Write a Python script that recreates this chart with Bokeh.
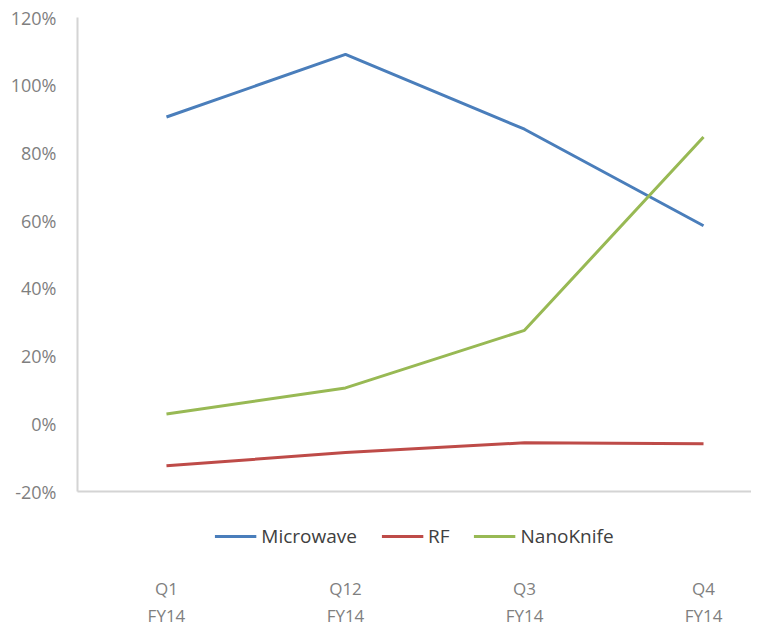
from bokeh.plotting import figure
from bokeh.layouts import column
from bokeh.models import (Range1d, LinearAxis, FixedTicker, PrintfTickFormatter,
                          Legend, LegendItem, ColumnDataSource)
from bokeh.embed import file_html
from bokeh.resources import INLINE

categories = ["Q1\nFY14", "Q12\nFY14", "Q3\nFY14", "Q4\nFY14"]
microwave = [90.6, 109.1, 87.0, 58.5]
rf = [-12.4, -8.5, -5.6, -5.9]
nanoknife = [2.9, 10.6, 27.6, 84.7]
y_ticks = [-20, 0, 20, 40, 60, 80, 100, 120]
series = [("Microwave", microwave), ("RF", rf), ("NanoKnife", nanoknife)]
colors = {"Microwave": "#4a7ebb", "RF": "#be4b48", "NanoKnife": "#98b954"}

FONT = "Open Sans"
GRAY = "#7f7f7f"

xs = list(range(len(categories)))
xr = Range1d(-0.497, 3.268)

# ---------- main plot ----------
p = figure(frame_width=674, frame_height=474, output_backend="svg", toolbar_location=None,
           x_range=xr, y_range=Range1d(-20, 120),
           x_axis_location=None, y_axis_location=None,
           min_border_left=77, min_border_top=17, min_border_right=0,
           min_border_bottom=12)
p.outline_line_color = None
p.xgrid.visible = False
p.ygrid.visible = False

yaxis = LinearAxis(ticker=FixedTicker(ticks=y_ticks),
                   formatter=PrintfTickFormatter(format="%d%%"))
yaxis.axis_line_color = "#d4d4d4"
yaxis.axis_line_width = 2
yaxis.major_tick_line_color = None
yaxis.minor_tick_line_color = None
yaxis.major_label_text_font = FONT
yaxis.major_label_text_font_size = "18px"
yaxis.major_label_text_color = GRAY
yaxis.major_label_standoff = 15
p.add_layout(yaxis, "left")

xline = LinearAxis(ticker=FixedTicker(ticks=[]))
xline.axis_line_color = "#d4d4d4"
xline.axis_line_width = 2
xline.major_tick_line_color = None
xline.major_tick_out = 0
xline.major_tick_in = 0
xline.minor_tick_line_color = None
xline.minor_tick_out = 0
xline.major_label_standoff = 0
xline.major_label_text_font_size = "0px"
p.add_layout(xline, "below")

for name, vals in series:
    src = ColumnDataSource(dict(x=xs, y=vals))
    p.line("x", "y", source=src, line_color=colors[name], line_width=3)

# ---------- legend + category labels strip ----------
q = figure(frame_width=674, frame_height=66, output_backend="svg", toolbar_location=None,
           x_range=xr, y_range=Range1d(1000, 1001),
           x_axis_location=None, y_axis_location=None,
           min_border_left=77, min_border_top=0, min_border_right=0,
           min_border_bottom=0)
q.outline_line_color = None
q.xgrid.visible = False
q.ygrid.visible = False

items = []
for name, vals in series:
    src = ColumnDataSource(dict(x=xs, y=vals))
    r = q.line("x", "y", source=src, line_color=colors[name], line_width=3)
    items.append(LegendItem(label=name, renderers=[r]))

legend = Legend(items=items, orientation="horizontal", location="center")
legend.border_line_color = None
legend.background_fill_alpha = 0
legend.label_text_font = FONT
legend.label_text_font_size = "19px"
legend.label_text_color = "#404040"
legend.glyph_width = 42
legend.label_standoff = 5
legend.spacing = 24
legend.margin = 0
legend.padding = 4
q.add_layout(legend, "center")

xaxis = LinearAxis(ticker=FixedTicker(ticks=xs),
                   major_label_overrides={i: c for i, c in zip(xs, categories)})
xaxis.axis_line_color = None
xaxis.major_tick_line_color = None
xaxis.major_tick_out = 0
xaxis.minor_tick_line_color = None
xaxis.minor_tick_out = 0
xaxis.major_label_text_font = FONT
xaxis.major_label_text_font_size = "17px"
xaxis.major_label_text_color = GRAY
xaxis.major_label_standoff = 7
q.add_layout(xaxis, "below")

layout = column(p, q, spacing=0)
open("out.html", "w").write(file_html(layout, INLINE))
